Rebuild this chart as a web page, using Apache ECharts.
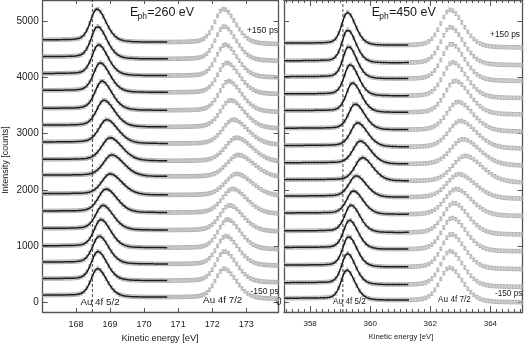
<!DOCTYPE html>
<html>
<head>
<meta charset="utf-8">
<script src="https://cdn.jsdelivr.net/npm/echarts@6/dist/echarts.min.js"></script>
<style>
  html, body { margin: 0; padding: 0; background: #fff; }
  #chart { width: 525px; height: 343px; }
</style>
</head>
<body>
<div id="chart"></div>
<script>
// Au 4f time-resolved spectra, top = +150 ps, bottom = -150 ps
// Panel A: E_ph = 260 eV
const baseA   = [4670, 4370, 4070, 3770, 3450, 3150, 2850, 2540, 2260, 1930, 1620, 1310, 1000, 710, 415, 120];
const peakA   = [168.61, 168.63, 168.66, 168.71, 168.76, 168.82, 168.90, 169.00, 169.05, 169.00, 168.88, 168.79, 168.73, 168.68, 168.64, 168.63];
const heightA = [563, 551, 527, 503, 497, 456, 408, 396, 368, 361, 403, 421, 480, 474, 497, 485];
const widthA  = [1.0, 1.0, 1.02, 1.05, 1.08, 1.15, 1.22, 1.3, 1.32, 1.3, 1.2, 1.12, 1.06, 1.03, 1.0, 1.0];
const splitA = 3.72, ratioA = 1.07, broadA = 1.0, errA = 32;

// Panel B: E_ph = 450 eV
const baseB   = [4612, 4298, 4014, 3707, 3410, 3096, 2788, 2481, 2179, 1888, 1586, 1266, 971, 657, 343, 66];
const peakB   = [359.24, 359.25, 359.28, 359.33, 359.41, 359.50, 359.58, 359.67, 359.74, 359.53, 359.44, 359.36, 359.31, 359.28, 359.24, 359.22];
const heightB = [561, 563, 551, 533, 503, 444, 414, 396, 401, 368, 403, 469, 497, 520, 533, 515];
const widthB  = [1.0, 1.0, 1.0, 1.04, 1.08, 1.15, 1.22, 1.28, 1.3, 1.25, 1.18, 1.1, 1.05, 1.02, 1.0, 1.0];
const splitB = 3.42, ratioB = 1.15, broadB = 1.25, errB = 32;

const ticksA = [168, 169, 170, 171, 172, 173];
const ticksB = [358, 360, 362, 364];
const ticksY = [0, 1000, 2000, 3000, 4000, 5000];
const dashA = 168.48, dashB = 359.09;

const xRangeA = [167.02, 173.95], xRangeB = [357.13, 365.07], yRange = [-178, 5382];

// peak shape: asymmetric pseudo-Voigt
function shape(d, hl, hr) {
  const x = d / (d < 0 ? hl : hr);
  return 0.75 * Math.exp(-0.693 * x * x) + 0.25 / (1 + x * x);
}
function step(E, c) { return 1 / (1 + Math.exp(-(E - c) / 0.25)); }
function model(E, i, P) {
  const w = P.width[i], h = P.height[i], e5 = P.peak[i], e7 = e5 + P.split;
  const h7 = h * P.ratio, w7 = w * P.broad;
  const bg = P.base[i] - 0.08 * h * step(E, e5 + 0.3) - 0.06 * h7 * step(E, e7 + 0.4);
  return bg + h * shape(E - e5, 0.22 * w, 0.32 * w) + h7 * shape(E - e7, 0.3 * w7, 0.42 * w7);
}

const panelA = { base: baseA, peak: peakA, height: heightA, width: widthA, split: splitA, ratio: ratioA, broad: broadA };
const panelB = { base: baseB, peak: peakB, height: heightB, width: widthB, split: splitB, ratio: ratioB, broad: broadB };

function pointsFor(P, lo, hi, dE, err) {
  const out = [];
  for (let i = 0; i < P.base.length; i++) {
    for (let E = lo; E <= hi; E += dE) out.push([+E.toFixed(3), model(E, i, P), err]);
  }
  return out;
}
function fitFor(P, i, lo, hi) {
  const out = [];
  for (let E = lo; E <= hi + 1e-9; E += 0.02) out.push([E, model(E, i, P)]);
  return out;
}

function renderBar(params, api) {
  const x = api.value(0), y = api.value(1), e = api.value(2);
  const t = api.coord([x, y + e]), b = api.coord([x, y - e]), c = api.coord([x, y]);
  const cap = 1.6;
  const st = { stroke: '#a6a6a6', lineWidth: 0.8 };
  return {
    type: 'group',
    children: [
      { type: 'line', shape: { x1: t[0], y1: t[1], x2: b[0], y2: b[1] }, style: st },
      { type: 'line', shape: { x1: t[0] - cap, y1: t[1], x2: t[0] + cap, y2: t[1] }, style: st },
      { type: 'line', shape: { x1: b[0] - cap, y1: b[1], x2: b[0] + cap, y2: b[1] }, style: st },
      { type: 'circle', shape: { cx: c[0], cy: c[1], r: 1.2 }, style: { stroke: '#ababab', fill: 'none', lineWidth: 0.7 } }
    ]
  };
}

const minorB = [];
for (let v = 357.2; v < 365.05; v += 0.2) {
  const r = Math.round(v * 10) / 10;
  if (Math.abs(r / 2 - Math.round(r / 2)) > 1e-6) minorB.push(r);
}

const lineCol = '#555';
function xAx(grid, range, pos, ticks, len, label, fontSize, showLine) {
  return {
    type: 'value', gridIndex: grid, min: range[0], max: range[1], position: pos,
    axisLine: { show: showLine, onZero: false, lineStyle: { color: lineCol, width: 1.3 } },
    axisTick: { show: true, inside: true, length: len, customValues: ticks, lineStyle: { color: lineCol, width: 1 } },
    axisLabel: { show: label, customValues: ticks, fontSize: fontSize, color: '#222', margin: 8, fontFamily: 'Liberation Sans',
      formatter: v => String(v) },
    splitLine: { show: false }
  };
}
function yAx(grid, pos, labels, fontSize, margin) {
  return {
    type: 'value', gridIndex: grid, min: yRange[0], max: yRange[1], position: pos,
    axisLine: { show: true, onZero: false, lineStyle: { color: lineCol, width: 1.3 } },
    axisTick: { show: true, inside: true, length: 5, customValues: ticksY, lineStyle: { color: lineCol, width: 1 } },
    axisLabel: { show: labels.length > 0, customValues: labels, fontSize: fontSize, color: '#222', margin: margin, fontFamily: 'Liberation Sans',
      formatter: v => String(v) },
    splitLine: { show: false }
  };
}

const series = [];
series.push({
  type: 'custom', xAxisIndex: 0, yAxisIndex: 0, renderItem: renderBar, clip: true, z: 1,
  data: pointsFor(panelA, 167.04, 173.95, 0.08, errA)
});
series.push({
  type: 'custom', xAxisIndex: 2, yAxisIndex: 2, renderItem: renderBar, clip: true, z: 1,
  data: pointsFor(panelB, 357.15, 365.07, 0.1, errB)
});
for (let i = 0; i < baseA.length; i++) {
  series.push({
    type: 'line', xAxisIndex: 0, yAxisIndex: 0, showSymbol: false, z: 3, silent: true,
    lineStyle: { color: '#1c1c1c', width: 1.5 }, data: fitFor(panelA, i, xRangeA[0], 170.7)
  });
}
for (let i = 0; i < baseB.length; i++) {
  series.push({
    type: 'line', xAxisIndex: 2, yAxisIndex: 2, showSymbol: false, z: 3, silent: true,
    lineStyle: { color: '#1c1c1c', width: 1.5 }, data: fitFor(panelB, i, xRangeB[0], 361.3)
  });
}
series.push({
  type: 'line', xAxisIndex: 0, yAxisIndex: 0, showSymbol: false, z: 4,
  lineStyle: { color: '#333', width: 0.9, type: [3, 2] }, data: [[dashA, yRange[0]], [dashA, yRange[1]]]
});
series.push({
  type: 'line', xAxisIndex: 2, yAxisIndex: 2, showSymbol: false, z: 4,
  lineStyle: { color: '#333', width: 0.9, type: [3, 2] }, data: [[dashB, yRange[0]], [dashB, yRange[1]]]
});

function txt(x, y, text, size, align, extra) {
  return Object.assign({
    type: 'text', x: x, y: y, z: 10,
    style: { text: text, fill: '#1a1a1a', fontSize: size, fontFamily: 'Liberation Sans', align: align || 'center', verticalAlign: 'middle' }
  }, extra || {});
}

const option = {
  animation: false,
  backgroundColor: '#fff',
  grid: [
    { left: 42.7, top: -1, width: 235.8, height: 313 },
    { left: 284, top: -1, width: 238.5, height: 313 }
  ],
  xAxis: [
    xAx(0, xRangeA, 'bottom', ticksA, 4, true, 9, true),
    xAx(0, xRangeA, 'top', ticksA, 4, false, 9, true),
    xAx(1, xRangeB, 'bottom', ticksB, 6, true, 8, true),
    xAx(1, xRangeB, 'top', ticksB, 6, false, 8, true),
    xAx(1, xRangeB, 'bottom', minorB, 3, false, 8, false),
    xAx(1, xRangeB, 'top', minorB, 3, false, 8, false)
  ],
  yAxis: [
    yAx(0, 'left', ticksY, 10, 4),
    yAx(0, 'right', [], 10, 4),
    yAx(1, 'left', [0], 10, 2.5),
    yAx(1, 'right', [], 10, 4)
  ],
  series: series,
  graphic: [
    txt(130, 13, 'E', 12.5, 'left'),
    txt(137.6, 16.5, 'ph', 8.5, 'left'),
    txt(147.2, 13, '=260 eV', 12.5, 'left'),
    txt(371.7, 13, 'E', 12.5, 'left'),
    txt(379.3, 16.5, 'ph', 8.5, 'left'),
    txt(388.9, 13, '=450 eV', 12.5, 'left'),
    txt(246.7, 31, '+150 ps', 8.8, 'left'),
    txt(490, 35, '+150 ps', 8.4, 'left'),
    txt(250.5, 292, '-150 ps', 8.5, 'left'),
    txt(495, 294, '-150 ps', 8.2, 'left'),
    txt(100, 302, 'Au 4f 5/2', 9.8),
    txt(349.5, 302, 'Au 4f 5/2', 8.2),
    txt(222.7, 300, 'Au 4f 7/2', 9.8),
    txt(454.5, 299.5, 'Au 4f 7/2', 8.2),
    txt(160, 338, 'Kinetic energy [eV]', 9.2),
    txt(401, 337, 'Kinetic energy [eV]', 7.7),
    txt(6, 160, 'Intensity [counts]', 9, 'center', { rotation: Math.PI / 2 })
  ]
};

const chart = echarts.init(document.getElementById('chart'));
chart.setOption(option);
</script>
</body>
</html>
